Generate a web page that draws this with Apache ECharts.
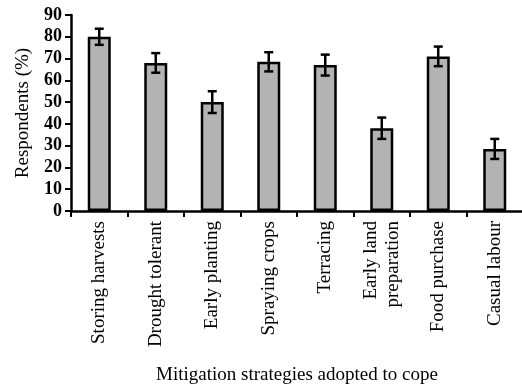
<!DOCTYPE html>
<html>
<head>
<meta charset="utf-8">
<script src="https://cdn.jsdelivr.net/npm/echarts@6/dist/echarts.min.js"></script>
<style>
  html, body { margin: 0; padding: 0; background: #fff; }
  #chart { width: 522px; height: 388px; }
</style>
</head>
<body>
<div id="chart"></div>
<script>
// Mitigation strategies and share of respondents using each
const categories = [
  'Storing harvests', 'Drought tolerant', 'Early planting', 'Spraying crops',
  'Terracing', 'Early land\npreparation', 'Food purchase', 'Casual labour'
];
const respondents = [80, 68, 50, 68.5, 67, 38, 71, 28.5];
const errors = [3.7, 4.5, 5, 4.4, 4.8, 4.9, 4.5, 4.6];
const yTicks = [0, 10, 20, 30, 40, 50, 60, 70, 80, 90];

const serif = '"Liberation Serif", "DejaVu Serif", serif';
const chart = echarts.init(document.getElementById('chart'));

chart.setOption({
  animation: false,
  grid: {
    left: 71, top: 15, width: 452, height: 196,
    containLabel: false, outerBoundsMode: 'none'
  },
  xAxis: {
    type: 'category',
    data: categories,
    name: 'Mitigation strategies adopted to cope',
    nameLocation: 'middle',
    nameGap: 155,
    nameTextStyle: { fontFamily: serif, fontSize: 19, color: '#000' },
    axisLine: { lineStyle: { color: '#000', width: 2.5 } },
    axisTick: { show: true, length: 6, lineStyle: { color: '#000', width: 2 } },
    axisLabel: {
      rotate: 90, fontFamily: serif, fontSize: 19, color: '#000',
      margin: 10, lineHeight: 22
    }
  },
  yAxis: {
    type: 'value',
    min: yTicks[0],
    max: yTicks[yTicks.length - 1],
    interval: 10,
    name: 'Respondents (%)',
    nameLocation: 'middle',
    nameGap: 38,
    nameTextStyle: { fontFamily: serif, fontSize: 19, color: '#000' },
    axisLine: { show: true, lineStyle: { color: '#000', width: 2.5 } },
    axisTick: { show: true, length: 6, lineStyle: { color: '#000', width: 2 } },
    axisLabel: { fontFamily: serif, fontSize: 18, fontWeight: 'bold', color: '#000', margin: 9 },
    splitLine: { show: false }
  },
  series: [
    {
      type: 'bar',
      data: respondents,
      barWidth: 23,
      itemStyle: { color: '#b3b3b3', borderColor: '#000', borderWidth: 2.5 }
    },
    {
      type: 'custom',
      data: respondents.map((v, i) => [i, v - errors[i], v + errors[i]]),
      renderItem: function (params, api) {
        const lo = api.coord([api.value(0), api.value(1)]);
        const hi = api.coord([api.value(0), api.value(2)]);
        const w = 4.5;
        const style = { stroke: '#000', lineWidth: 2.5 };
        return {
          type: 'group',
          children: [
            { type: 'line', shape: { x1: hi[0], y1: hi[1], x2: lo[0], y2: lo[1] }, style: style },
            { type: 'line', shape: { x1: hi[0] - w, y1: hi[1], x2: hi[0] + w, y2: hi[1] }, style: style },
            { type: 'line', shape: { x1: lo[0] - w, y1: lo[1], x2: lo[0] + w, y2: lo[1] }, style: style }
          ]
        };
      },
      z: 5
    }
  ]
});
</script>
</body>
</html>
